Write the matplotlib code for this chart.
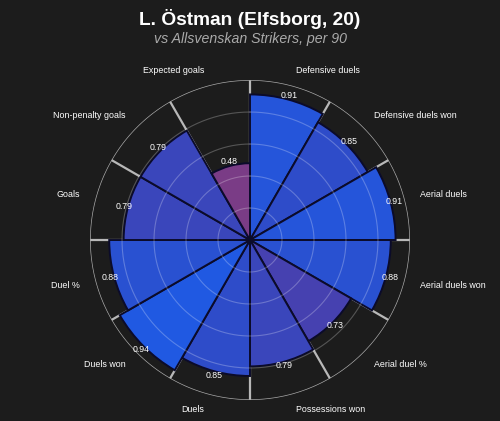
import numpy as np
import matplotlib
matplotlib.use("Agg")
import matplotlib.pyplot as plt
from matplotlib.colors import LinearSegmentedColormap

plt.rcParams['font.family'] = ['Liberation Sans', 'DejaVu Sans']

categories = ["Defensive duels", "Defensive duels won", "Aerial duels", "Aerial duels won",
              "Aerial duel %", "Possessions won", "Duels", "Duels won", "Duel %",
              "Goals", "Non-penalty goals", "Expected goals"]
values = [0.91, 0.85, 0.91, 0.88, 0.73, 0.79, 0.85, 0.94, 0.88, 0.79, 0.79, 0.48]
title = "L. Östman (Elfsborg, 20)"
subtitle = "vs Allsvenskan Strikers, per 90"

BG = "#1c1c1c"
cmap = LinearSegmentedColormap.from_list(
    "pb", [(0.0, "#7a3c86"), (0.55, "#4641b0"), (0.75, "#3249c2"), (1.0, "#2059e2")])

def col(v):
    return cmap((v - 0.48) / (0.94 - 0.48))

fig = plt.figure(figsize=(5.0, 4.21), dpi=100, facecolor=BG)
ax = fig.add_axes([0.18, 0.0499, 0.64, 0.76], projection="polar", facecolor=BG)
ax.set_theta_zero_location("N")
ax.set_theta_direction(-1)

n = len(categories)
width = 2 * np.pi / n
centers = np.arange(n) * width + width / 2
bounds = np.arange(n) * width

# radial separators (behind bars)
for b in bounds:
    ax.plot([b, b], [0, 1.0], color="#b8b8b8", lw=1.6, zorder=1, solid_capstyle="butt")

ax.bar(centers, values, width=width, color=[col(v) for v in values],
       edgecolor="#0b0b2a", linewidth=1.4, zorder=2)

# inner rings above bars
th = np.linspace(0, 2 * np.pi, 400)
for r in [0.2, 0.4, 0.6, 0.8]:
    ax.plot(th, np.full_like(th, r), color="white", alpha=0.25, lw=0.8, zorder=3)
ax.plot(th, np.full_like(th, 1.0), color="#a8a8a8", lw=1.0, zorder=3)

ax.set_ylim(0, 1.0)
ax.set_xticks([])
ax.set_yticks([])
ax.grid(False)
ax.spines["polar"].set_visible(False)

for c, v in zip(centers, values):
    ax.text(c, v + 0.025, f"{v:.2f}", color="white", fontsize=6.3,
            ha="center", va="center", zorder=4)

for c, lab in zip(centers, categories):
    s = np.sin(c)
    ha = "left" if s > 0 else "right"
    ax.text(c, 1.1, lab, color="white", fontsize=6.4, ha=ha, va="center", clip_on=False)

fig.text(0.5, 0.955, title, color="white", fontsize=13.8, fontweight="bold",
         ha="center", va="center")
fig.text(0.5, 0.908, subtitle, color="#aaaaaa", fontsize=10.2, style="italic",
         ha="center", va="center")

fig.savefig("out.png", dpi=100, facecolor=BG)
